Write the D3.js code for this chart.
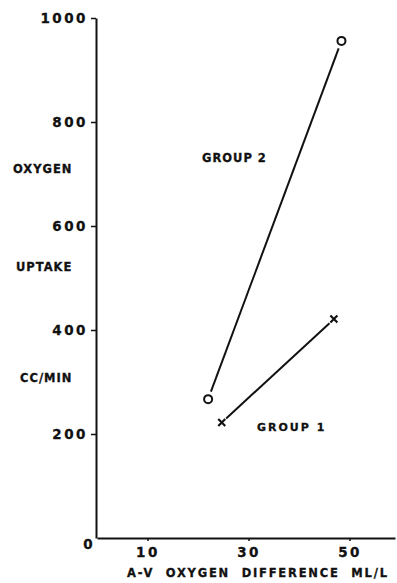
<!DOCTYPE html>
<html>
<head>
<meta charset="utf-8">
<script src="https://cdn.jsdelivr.net/npm/d3@7"></script>
<style>
  body { margin: 0; background: #fff; }
  text { font-family: "DejaVu Sans", sans-serif; font-weight: bold; fill: #111; stroke: #111; stroke-width: 0.3px; }
</style>
</head>
<body>
<svg id="chart" width="397" height="583"></svg>
<script>
// data
const group1X = [24.7, 46.9];
const group1Y = [222, 421];
const group2X = [22.0, 48.4];
const group2Y = [267, 956];
const xTicks = [10, 30, 50];
const yTicks = [200, 400, 600, 800, 1000];
const yTitle = ["OXYGEN", "UPTAKE", "CC/MIN"];
const xTitle = "A-V  OXYGEN  DIFFERENCE  ML/L";

const svg = d3.select("#chart");

const x = d3.scaleLinear().domain([0, 59]).range([97, 395]);
const y = d3.scaleLinear().domain([0, 1000]).range([538, 18]);

// y axis
const yAxis = svg.append("g")
  .attr("transform", "translate(96,0)")
  .call(d3.axisLeft(y).tickValues(yTicks).tickFormat(d3.format("d"))
    .tickSize(5).tickSizeOuter(0).tickPadding(3));
yAxis.select(".domain").attr("stroke", "#111").attr("stroke-width", 2);
yAxis.selectAll(".tick line").attr("stroke", "#111").attr("stroke-width", 1.5);
yAxis.selectAll(".tick text")
  .attr("font-size", 13.5).attr("letter-spacing", "2.5px")
  .style("font-family", "DejaVu Sans").style("font-weight", "bold");

// x axis
const xAxis = svg.append("g")
  .attr("transform", "translate(0,538)")
  .call(d3.axisBottom(x).tickValues(xTicks).tickSize(3).tickSizeOuter(0).tickPadding(6));
xAxis.select(".domain").attr("stroke", "#111").attr("stroke-width", 2);
xAxis.selectAll(".tick line").attr("stroke", "#111").attr("stroke-width", 1.5);
xAxis.selectAll(".tick text")
  .attr("font-size", 13.5).attr("letter-spacing", "2.5px")
  .style("font-family", "DejaVu Sans").style("font-weight", "bold");

// origin label
svg.append("text")
  .attr("x", 88).attr("y", y(0) + 11)
  .attr("text-anchor", "middle")
  .attr("font-size", 13.5)
  .text("0");

// shortened connecting line between two markers
function segment(xs, ys, gap) {
  const x1 = x(xs[0]), y1 = y(ys[0]), x2 = x(xs[1]), y2 = y(ys[1]);
  const len = Math.hypot(x2 - x1, y2 - y1);
  const ux = (x2 - x1) / len, uy = (y2 - y1) / len;
  svg.append("line")
    .attr("x1", x1 + ux * gap).attr("y1", y1 + uy * gap)
    .attr("x2", x2 - ux * gap).attr("y2", y2 - uy * gap)
    .attr("stroke", "#111").attr("stroke-width", 2);
}

segment(group2X, group2Y, 8);
segment(group1X, group1Y, 6);

// group 2 circles
svg.selectAll(".g2")
  .data(d3.zip(group2X, group2Y))
  .join("circle")
  .attr("cx", d => x(d[0]))
  .attr("cy", d => y(d[1]))
  .attr("r", 4)
  .attr("fill", "none")
  .attr("stroke", "#111")
  .attr("stroke-width", 2);

// group 1 crosses
svg.selectAll(".g1")
  .data(d3.zip(group1X, group1Y))
  .join("path")
  .attr("d", d => {
    const cx = x(d[0]), cy = y(d[1]), s = 3.5;
    return `M${cx - s},${cy - s}L${cx + s},${cy + s}M${cx + s},${cy - s}L${cx - s},${cy + s}`;
  })
  .attr("stroke", "#111")
  .attr("stroke-width", 2.2);

// group labels
svg.append("text")
  .attr("x", 202).attr("y", 162)
  .attr("font-size", 11.5).attr("letter-spacing", "1px")
  .text("GROUP 2");
svg.append("text")
  .attr("x", 257).attr("y", 431)
  .attr("font-size", 11).attr("letter-spacing", "2px")
  .text("GROUP 1");

// y title in three pieces
const yTitlePos = [[13, 173], [16, 271], [20, 382]];
svg.selectAll(".ytitle")
  .data(yTitle)
  .join("text")
  .attr("x", (d, i) => yTitlePos[i][0])
  .attr("y", (d, i) => yTitlePos[i][1])
  .attr("font-size", 11.5)
  .attr("letter-spacing", "1px")
  .text(d => d);

// x title
svg.append("text")
  .attr("x", 127).attr("y", 577)
  .attr("font-size", 11.5)
  .attr("letter-spacing", "1.8px")
  .style("white-space", "pre")
  .text(xTitle);
</script>
</body>
</html>
